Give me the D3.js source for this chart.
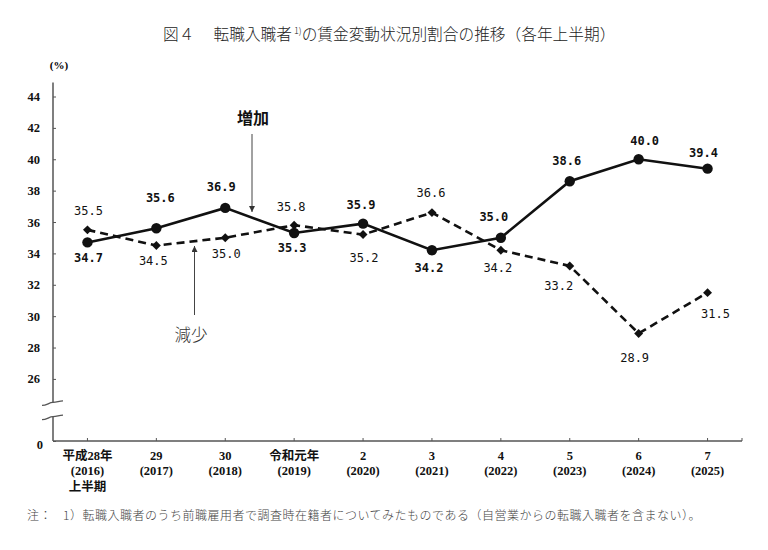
<!DOCTYPE html>
<html lang="ja">
<head>
<meta charset="utf-8">
<title>図4 転職入職者の賃金変動状況別割合の推移</title>
<script src="https://cdn.jsdelivr.net/npm/d3@7"></script>
<style>
  body { margin: 0; background: #fff; }
  svg { display: block; }
</style>
</head>
<body>
<svg id="chart" width="768" height="550"></svg>
<script>
// categories (era year / western year / note line)
var eraLabels  = ["平成28年", "29", "30", "令和元年", "2", "3", "4", "5", "6", "7"];
var yearLabels = ["(2016)", "(2017)", "(2018)", "(2019)", "(2020)", "(2021)", "(2022)", "(2023)", "(2024)", "(2025)"];
var noteLabels = ["上半期", "", "", "", "", "", "", "", "", ""];

// series values (%)
var increase = [34.7, 35.6, 36.9, 35.3, 35.9, 34.2, 35.0, 38.6, 40.0, 39.4];
var decrease = [35.5, 34.5, 35.0, 35.8, 35.2, 36.6, 34.2, 33.2, 28.9, 31.5];

// y tick labels
var yTicks = [0, 26, 28, 30, 32, 34, 36, 38, 40, 42, 44];

// where each value label sits relative to its point [dx, dy]
var incLabelPos = [[1, 16], [4, -30], [-4, -21], [-2, 15], [-2, -19], [-3, 18], [-7, -21], [-3, -20], [6, -18], [-4, -16]];
var decLabelPos = [[1, -19], [-3, 15], [1, 16], [-3, -18], [1, 23], [-1, -20], [-3, 18], [-11, 20], [-4, 25], [8, 21]];

var svg = d3.select("#chart");

var left = 53, right = 742, bottom = 441;

// x: one band per half-year, points at band centres
var x = d3.scaleBand()
    .domain(d3.range(eraLabels.length))
    .range([left, right]);
var cx = function(i) { return x(i) + x.bandwidth() / 2; };

// y: broken axis, 0..24 squeezed into the bottom strip
var y = d3.scaleLinear()
    .domain([0, 24, 44])
    .range([bottom, 410.3, 96.5]);

var breakTop = y(24.5), breakBottom = y(19);

// title
var title = svg.append("text")
    .attr("x", 163)
    .attr("y", 40)
    .style("font-family", "'Noto Sans CJK JP'")
    .style("font-size", "15.7px")
    .style("font-weight", 300)
    .style("fill", "#222");
title.append("tspan").text("図４　 転職入職者");
title.append("tspan").attr("dx", 2).attr("dy", -6).style("font-size", "9px").text("1)");
title.append("tspan").attr("dy", 6).text("の賃金変動状況別割合の推移（各年上半期）");

// unit
svg.append("text")
    .attr("x", 59)
    .attr("y", 69)
    .attr("text-anchor", "middle")
    .style("font-family", "'Liberation Serif'")
    .style("font-size", "11px")
    .style("font-weight", "bold")
    .text("(%)");

// y axis ticks and labels
var yAxis = d3.axisLeft(y)
    .tickValues(yTicks)
    .tickSize(-3)
    .tickPadding(13)
    .tickFormat(d3.format("d"));

var gy = svg.append("g")
    .attr("transform", "translate(" + left + ",0)")
    .call(yAxis);
gy.select(".domain").remove();
gy.selectAll("line").attr("stroke", "#555");
gy.selectAll("text")
    .style("font-family", "'Liberation Serif'")
    .style("font-size", "12.5px")
    .style("font-weight", "bold")
    .style("fill", "#111");
gy.selectAll(".tick").filter(function(d) { return d === 0; }).select("text").attr("dx", 3).attr("dy", "0.6em");

// y axis line with a gap for the break
var axisColor = "#555";
svg.append("line")
    .attr("x1", left).attr("x2", left)
    .attr("y1", y(44.9)).attr("y2", breakTop)
    .attr("stroke", axisColor).attr("stroke-width", 1.5);
svg.append("line")
    .attr("x1", left).attr("x2", left)
    .attr("y1", breakBottom).attr("y2", bottom)
    .attr("stroke", axisColor).attr("stroke-width", 1.5);

// break marks (little waves across the axis)
[breakTop, breakBottom].forEach(function(by) {
    svg.append("path")
        .attr("d", "M" + (left - 11) + "," + (by + 3) +
                   " C" + (left - 6) + "," + (by + 3) + " " + (left - 4) + "," + by + " " + left + "," + by +
                   " C" + (left + 4) + "," + by + " " + (left + 6) + "," + (by - 1.5) + " " + (left + 10) + "," + (by - 1.5))
        .attr("fill", "none")
        .attr("stroke", axisColor)
        .attr("stroke-width", 1.3);
});

// x axis
var gx = svg.append("g")
    .attr("transform", "translate(0," + bottom + ")")
    .call(d3.axisBottom(x).tickSize(-3).tickFormat(""));
gx.select(".domain").remove();
gx.selectAll(".tick line").attr("stroke", axisColor);
svg.append("line")
    .attr("x1", left).attr("x2", right)
    .attr("y1", bottom).attr("y2", bottom)
    .attr("stroke", axisColor).attr("stroke-width", 1.5);
svg.append("line")
    .attr("x1", right).attr("x2", right)
    .attr("y1", bottom).attr("y2", bottom - 3)
    .attr("stroke", axisColor);

// category labels, three lines each
var catText = svg.append("g")
    .selectAll("text")
    .data(eraLabels)
    .join("text")
    .attr("text-anchor", "middle")
    .style("font-family", "'Liberation Serif', 'Noto Sans CJK JP'")
    .style("font-size", "12.5px")
    .style("font-weight", "bold")
    .style("fill", "#111");
catText.append("tspan").attr("x", function(d, i) { return cx(i); }).attr("y", bottom + 19).text(function(d) { return d; });
catText.append("tspan").attr("x", function(d, i) { return cx(i); }).attr("y", bottom + 34).text(function(d, i) { return yearLabels[i]; });
catText.append("tspan").attr("x", function(d, i) { return cx(i); }).attr("y", bottom + 50).text(function(d, i) { return noteLabels[i]; });

// lines
var line = d3.line()
    .x(function(d, i) { return cx(i); })
    .y(function(d) { return y(d); });

svg.append("path")
    .datum(increase)
    .attr("d", line)
    .attr("fill", "none")
    .attr("stroke", "#111")
    .attr("stroke-width", 2.6);

svg.append("path")
    .datum(decrease)
    .attr("d", line)
    .attr("fill", "none")
    .attr("stroke", "#111")
    .attr("stroke-width", 2.6)
    .attr("stroke-dasharray", "8,5");

// markers
svg.append("g")
    .selectAll("circle")
    .data(increase)
    .join("circle")
    .attr("cx", function(d, i) { return cx(i); })
    .attr("cy", function(d) { return y(d); })
    .attr("r", 5.2)
    .attr("fill", "#111");

svg.append("g")
    .selectAll("path")
    .data(decrease)
    .join("path")
    .attr("d", d3.symbol(d3.symbolSquare, 40))
    .attr("transform", function(d, i) { return "translate(" + cx(i) + "," + y(d) + ") rotate(45)"; })
    .attr("fill", "#111");

// value labels
function valueLabels(values, pos, weight) {
    svg.append("g")
        .selectAll("text")
        .data(values)
        .join("text")
        .attr("x", function(d, i) { return cx(i) + pos[i][0]; })
        .attr("y", function(d, i) { return y(d) + pos[i][1]; })
        .attr("text-anchor", "middle")
        .attr("dominant-baseline", "central")
        .style("font-family", "'DejaVu Sans Mono'")
        .style("font-size", "12px")
        .style("font-weight", weight)
        .style("fill", "#111")
        .text(function(d) { return d.toFixed(1); });
}
valueLabels(increase, incLabelPos, "bold");
valueLabels(decrease, decLabelPos, "normal");

// series call-outs with arrows
svg.append("defs").append("marker")
    .attr("id", "head")
    .attr("viewBox", "0 0 10 10")
    .attr("refX", 10).attr("refY", 5)
    .attr("markerWidth", 6).attr("markerHeight", 6)
    .attr("markerUnits", "userSpaceOnUse")
    .attr("orient", "auto")
    .append("path")
    .attr("d", "M0,0 L10,5 L0,10 Z")
    .attr("fill", "#333");

svg.append("text")
    .attr("x", 253).attr("y", 117)
    .attr("text-anchor", "middle")
    .attr("dominant-baseline", "central")
    .style("font-family", "'Noto Sans CJK JP'")
    .style("font-size", "16px")
    .style("font-weight", "bold")
    .style("fill", "#111")
    .text("増加");
svg.append("line")
    .attr("x1", 252).attr("x2", 252)
    .attr("y1", 134).attr("y2", 212)
    .attr("stroke", "#444").attr("stroke-width", 1)
    .attr("marker-end", "url(#head)");

svg.append("text")
    .attr("x", 191).attr("y", 334)
    .attr("text-anchor", "middle")
    .attr("dominant-baseline", "central")
    .style("font-family", "'Noto Sans CJK JP'")
    .style("font-size", "16.5px")
    .style("font-weight", 300)
    .style("fill", "#333")
    .text("減少");
svg.append("line")
    .attr("x1", 194.5).attr("x2", 194.5)
    .attr("y1", 315).attr("y2", 246)
    .attr("stroke", "#444").attr("stroke-width", 1)
    .attr("marker-end", "url(#head)");

// footnote
svg.append("text")
    .attr("x", 27).attr("y", 520)
    .style("font-family", "'Noto Sans CJK JP'")
    .style("font-size", "12px")
    .style("font-weight", 300)
    .style("letter-spacing", "0.5px")
    .style("fill", "#444")
    .text("注：")
    .append("tspan")
    .attr("x", 63)
    .text("1）転職入職者のうち前職雇用者で調査時在籍者についてみたものである（自営業からの転職入職者を含まない）。");
</script>
</body>
</html>
